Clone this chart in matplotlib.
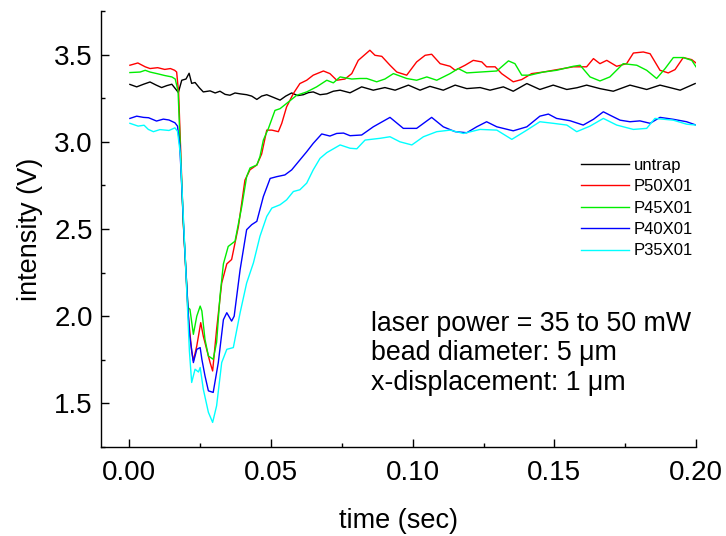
import numpy as np
import matplotlib
matplotlib.use('Agg')
import matplotlib.pyplot as plt
from matplotlib.ticker import MultipleLocator

plt.rcParams['font.family'] = ['Liberation Sans', 'DejaVu Sans']

## donnees (temps en s, intensite en V)

t_untrap = [0.0002, 0.0026, 0.0050, 0.0073, 0.0095, 0.0114, 0.0132, 0.0150, 0.0173, 0.0185, 0.0200,
            0.0211, 0.0220, 0.0232, 0.0247, 0.0261, 0.0285, 0.0303, 0.0320, 0.0338, 0.0355, 0.0373,
            0.0391, 0.0414, 0.0432, 0.0450, 0.0467, 0.0485, 0.0508, 0.0532, 0.0552, 0.0573, 0.0594,
            0.0614, 0.0632, 0.0649, 0.0673, 0.0697, 0.0720, 0.0744, 0.0779, 0.0820, 0.0861, 0.0902,
            0.0938, 0.0985, 0.1026, 0.1061, 0.1108, 0.1150, 0.1191, 0.1238, 0.1273, 0.1320, 0.1355,
            0.1403, 0.1449, 0.1496, 0.1544, 0.1580, 0.1614, 0.1661, 0.1708, 0.1767, 0.1826, 0.1873,
            0.1910, 0.1944, 0.1997]
v_untrap = [3.329, 3.315, 3.330, 3.343, 3.325, 3.311, 3.322, 3.330, 3.283, 3.353, 3.360,
            3.393, 3.335, 3.340, 3.310, 3.286, 3.292, 3.280, 3.290, 3.272, 3.267, 3.280,
            3.275, 3.270, 3.262, 3.243, 3.262, 3.270, 3.255, 3.239, 3.262, 3.280, 3.265,
            3.270, 3.282, 3.286, 3.270, 3.275, 3.290, 3.296, 3.281, 3.315, 3.296, 3.311,
            3.296, 3.325, 3.296, 3.318, 3.296, 3.325, 3.305, 3.311, 3.296, 3.315, 3.290,
            3.334, 3.300, 3.325, 3.300, 3.310, 3.325, 3.305, 3.290, 3.325, 3.300, 3.325,
            3.310, 3.296, 3.334]

t_p50 = [0.0002, 0.0030, 0.0056, 0.0073, 0.0100, 0.0125, 0.0145, 0.0160, 0.0167, 0.0174, 0.0190,
         0.0207, 0.0220, 0.0226, 0.0238, 0.0252, 0.0261, 0.0273, 0.0285, 0.0294, 0.0308, 0.0326,
         0.0344, 0.0361, 0.0385, 0.0408, 0.0426, 0.0450, 0.0467, 0.0485, 0.0503, 0.0526, 0.0538,
         0.0555, 0.0579, 0.0602, 0.0626, 0.0649, 0.0685, 0.0708, 0.0732, 0.0761, 0.0785, 0.0808,
         0.0849, 0.0867, 0.0891, 0.0920, 0.0944, 0.0979, 0.1014, 0.1044, 0.1067, 0.1097, 0.1132,
         0.1150, 0.1185, 0.1214, 0.1244, 0.1261, 0.1291, 0.1314, 0.1355, 0.1385, 0.1420, 0.1461,
         0.1496, 0.1567, 0.1614, 0.1638, 0.1661, 0.1685, 0.1720, 0.1755, 0.1779, 0.1814, 0.1838,
         0.1873, 0.1902, 0.1926, 0.1955, 0.1985, 0.2000]
v_p50 = [3.439, 3.452, 3.430, 3.420, 3.425, 3.415, 3.420, 3.410, 3.400, 3.280, 2.550,
         2.020, 1.800, 1.745, 1.829, 1.963, 1.886, 1.810, 1.734, 1.686, 1.924, 2.190,
         2.300, 2.325, 2.515, 2.780, 2.840, 2.867, 2.930, 3.067, 3.067, 3.058, 3.106,
         3.200, 3.277, 3.334, 3.353, 3.382, 3.406, 3.391, 3.353, 3.360, 3.391, 3.467,
         3.525, 3.496, 3.490, 3.439, 3.400, 3.382, 3.458, 3.496, 3.502, 3.448, 3.433,
         3.410, 3.439, 3.467, 3.458, 3.430, 3.430, 3.391, 3.344, 3.357, 3.391, 3.400,
         3.410, 3.430, 3.430, 3.477, 3.448, 3.467, 3.433, 3.448, 3.509, 3.515, 3.505,
         3.410, 3.395, 3.414, 3.483, 3.471, 3.452]

t_p45 = [0.0002, 0.0038, 0.0056, 0.0073, 0.0100, 0.0125, 0.0150, 0.0162, 0.0172, 0.0190, 0.0207,
         0.0214, 0.0226, 0.0238, 0.0250, 0.0256, 0.0267, 0.0279, 0.0296, 0.0308, 0.0320, 0.0332,
         0.0349, 0.0373, 0.0397, 0.0414, 0.0426, 0.0450, 0.0461, 0.0473, 0.0491, 0.0514, 0.0532,
         0.0555, 0.0591, 0.0626, 0.0661, 0.0697, 0.0720, 0.0744, 0.0785, 0.0814, 0.0838, 0.0873,
         0.0902, 0.0932, 0.0979, 0.1014, 0.1050, 0.1085, 0.1132, 0.1161, 0.1191, 0.1238, 0.1297,
         0.1338, 0.1361, 0.1385, 0.1414, 0.1461, 0.1508, 0.1567, 0.1591, 0.1626, 0.1661, 0.1696,
         0.1743, 0.1791, 0.1826, 0.1861, 0.1891, 0.1920, 0.1955, 0.1985, 0.2000]
v_p45 = [3.397, 3.400, 3.410, 3.400, 3.390, 3.380, 3.372, 3.360, 3.290, 2.550, 2.050,
         2.039, 1.896, 2.000, 2.058, 2.030, 1.867, 1.772, 1.753, 1.850, 2.115, 2.300,
         2.400, 2.430, 2.630, 2.800, 2.850, 2.867, 2.915, 3.010, 3.077, 3.180, 3.190,
         3.220, 3.267, 3.286, 3.315, 3.353, 3.338, 3.372, 3.360, 3.363, 3.363, 3.344,
         3.360, 3.391, 3.363, 3.353, 3.372, 3.353, 3.391, 3.420, 3.395, 3.400, 3.406,
         3.464, 3.448, 3.382, 3.382, 3.400, 3.410, 3.433, 3.439, 3.372, 3.349, 3.372,
         3.448, 3.439, 3.410, 3.363, 3.420, 3.483, 3.483, 3.467, 3.430]

t_p40 = [0.0002, 0.0026, 0.0050, 0.0068, 0.0096, 0.0120, 0.0140, 0.0161, 0.0170, 0.0178, 0.0195,
         0.0212, 0.0226, 0.0238, 0.0250, 0.0256, 0.0267, 0.0279, 0.0296, 0.0314, 0.0332, 0.0344,
         0.0361, 0.0370, 0.0391, 0.0414, 0.0432, 0.0450, 0.0473, 0.0497, 0.0520, 0.0549, 0.0573,
         0.0602, 0.0626, 0.0649, 0.0679, 0.0708, 0.0732, 0.0756, 0.0779, 0.0820, 0.0861, 0.0920,
         0.0967, 0.1014, 0.1067, 0.1108, 0.1150, 0.1191, 0.1226, 0.1261, 0.1297, 0.1355, 0.1403,
         0.1449, 0.1479, 0.1508, 0.1555, 0.1602, 0.1638, 0.1673, 0.1696, 0.1732, 0.1767, 0.1802,
         0.1838, 0.1873, 0.1920, 0.1967, 0.2000]
v_p40 = [3.134, 3.147, 3.140, 3.138, 3.119, 3.130, 3.125, 3.109, 3.090, 2.980, 2.400,
         1.900, 1.734, 1.810, 1.820, 1.753, 1.658, 1.572, 1.563, 1.734, 1.980, 2.020,
         1.972, 2.000, 2.267, 2.496, 2.525, 2.544, 2.686, 2.790, 2.800, 2.810, 2.839,
         2.896, 2.943, 2.991, 3.045, 3.033, 3.048, 3.050, 3.035, 3.039, 3.086, 3.140,
         3.077, 3.077, 3.140, 3.086, 3.058, 3.052, 3.086, 3.115, 3.086, 3.063, 3.086,
         3.147, 3.159, 3.134, 3.121, 3.096, 3.129, 3.172, 3.153, 3.124, 3.115, 3.120,
         3.106, 3.140, 3.129, 3.115, 3.096]

t_p35 = [0.0002, 0.0031, 0.0052, 0.0067, 0.0085, 0.0108, 0.0140, 0.0161, 0.0170, 0.0180, 0.0197,
         0.0212, 0.0220, 0.0232, 0.0244, 0.0250, 0.0261, 0.0279, 0.0294, 0.0308, 0.0326, 0.0344,
         0.0367, 0.0391, 0.0414, 0.0438, 0.0461, 0.0485, 0.0503, 0.0532, 0.0555, 0.0579, 0.0602,
         0.0626, 0.0649, 0.0673, 0.0697, 0.0744, 0.0779, 0.0803, 0.0832, 0.0885, 0.0920, 0.0955,
         0.0997, 0.1038, 0.1085, 0.1132, 0.1179, 0.1238, 0.1297, 0.1350, 0.1403, 0.1449, 0.1496,
         0.1544, 0.1579, 0.1626, 0.1673, 0.1720, 0.1779, 0.1826, 0.1855, 0.1920, 0.1967, 0.2000]
v_p35 = [3.106, 3.090, 3.095, 3.071, 3.058, 3.070, 3.065, 3.080, 3.060, 2.930, 2.350,
         1.800, 1.620, 1.696, 1.680, 1.706, 1.582, 1.449, 1.391, 1.486, 1.734, 1.810,
         1.820, 2.020, 2.190, 2.306, 2.458, 2.572, 2.620, 2.639, 2.667, 2.715, 2.725,
         2.763, 2.839, 2.905, 2.938, 2.982, 2.963, 2.960, 3.010, 3.020, 3.029, 3.000,
         2.982, 3.029, 3.058, 3.067, 3.048, 3.071, 3.067, 3.014, 3.067, 3.115, 3.106,
         3.096, 3.058, 3.090, 3.134, 3.096, 3.071, 3.077, 3.134, 3.124, 3.101, 3.096]

series = [("untrap", t_untrap, v_untrap, "black"),
          ("P50X01", t_p50, v_p50, "#ff0000"),
          ("P45X01", t_p45, v_p45, "#00ee00"),
          ("P40X01", t_p40, v_p40, "#0000ff"),
          ("P35X01", t_p35, v_p35, "#00ffff")]

## figure

fig = plt.figure(figsize=(7.26, 5.36), dpi=100)
ax = fig.add_axes([101/726, 89/536, 595/726, 436/536])

for nom, t, v, c in series:
    ax.plot(t, v, color=c, lw=1.0, label=nom)

ax.set_xlim(-0.01, 0.20)
ax.set_ylim(1.25, 3.75)
ax.spines['top'].set_visible(False)
ax.spines['right'].set_visible(False)
for s in ['left', 'bottom']:
    ax.spines[s].set_linewidth(1.0)

ax.xaxis.set_major_locator(MultipleLocator(0.05))
ax.xaxis.set_minor_locator(MultipleLocator(0.025))
ax.yaxis.set_major_locator(MultipleLocator(0.5))
ax.yaxis.set_minor_locator(MultipleLocator(0.25))
ax.xaxis.set_major_formatter(matplotlib.ticker.FormatStrFormatter('%.2f'))
ax.yaxis.set_major_formatter(matplotlib.ticker.FormatStrFormatter('%.1f'))
ax.tick_params(which='both', direction='in', top=False, right=False, width=1.0)
ax.tick_params(which='major', length=6, labelsize=20)
ax.tick_params(axis='x', which='major', pad=9)
ax.tick_params(axis='y', which='major', pad=6)
ax.tick_params(which='minor', length=3)

ax.set_xlabel('time (sec)', fontsize=19.5, labelpad=16)
ax.set_ylabel('intensity (V)', fontsize=19.5, labelpad=8)

ax.legend(loc='upper left', bbox_to_anchor=(581/726, (536-158)/536),
          bbox_transform=fig.transFigure, frameon=False, fontsize=12,
          handlelength=2.9, handletextpad=0.25, labelspacing=0.38,
          borderpad=0, borderaxespad=0)

lignes = ["laser power = 35 to 50 mW", "bead diameter: 5 \u03bcm", "x-displacement: 1 \u03bcm"]
for i, txt in enumerate(lignes):
    fig.text(371/726, (536 - 331 - 29.5*i)/536, txt, fontsize=19.3, va='baseline', ha='left')

fig.savefig('out.png', dpi=100)
